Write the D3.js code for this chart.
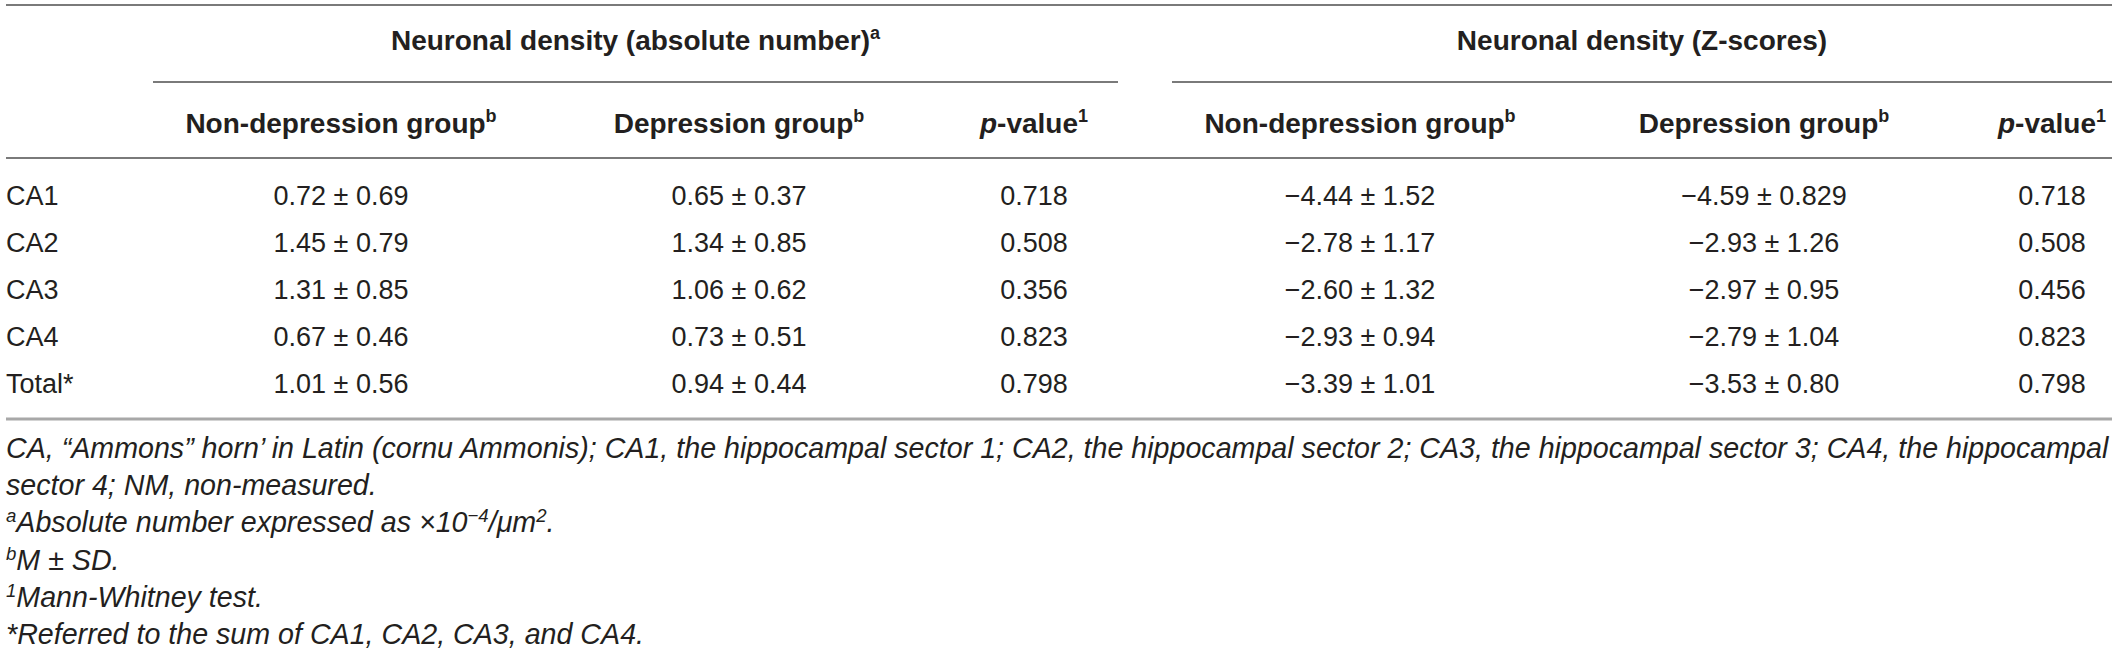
<!DOCTYPE html>
<html>
<head>
<meta charset="utf-8">
<script src="https://cdn.jsdelivr.net/npm/d3@7"></script>
<style>
  body { margin: 0; background: #fff; }
  svg { display: block; }
  text { font-family: "Liberation Sans", Arial, sans-serif; fill: #231f20; }
</style>
</head>
<body>
<div id="chart"></div>
<script>
// table content
var regions = ["CA1", "CA2", "CA3", "CA4", "Total*"];
var groupTitles = ["Neuronal density (absolute number)", "Neuronal density (Z-scores)"];
var groupMarks = ["a", ""];
var colTitles = ["Non-depression group", "Depression group", "p-value"];
var colMarks = ["b", "b", "1"];

var absNonDep = ["0.72 ± 0.69", "1.45 ± 0.79", "1.31 ± 0.85", "0.67 ± 0.46", "1.01 ± 0.56"];
var absDep = ["0.65 ± 0.37", "1.34 ± 0.85", "1.06 ± 0.62", "0.73 ± 0.51", "0.94 ± 0.44"];
var absP = ["0.718", "0.508", "0.356", "0.823", "0.798"];
var zNonDep = ["−4.44 ± 1.52", "−2.78 ± 1.17", "−2.60 ± 1.32", "−2.93 ± 0.94", "−3.39 ± 1.01"];
var zDep = ["−4.59 ± 0.829", "−2.93 ± 1.26", "−2.97 ± 0.95", "−2.79 ± 1.04", "−3.53 ± 0.80"];
var zP = ["0.718", "0.508", "0.456", "0.823", "0.798"];

var width = 2118, height = 652;

var svg = d3.select("#chart").append("svg")
    .attr("width", width)
    .attr("height", height);

// column positions
var colKeys = ["absNonDep", "absDep", "absP", "zNonDep", "zDep", "zP"];
var x = d3.scaleOrdinal()
    .domain(colKeys)
    .range([341, 739, 1034, 1360, 1764, 2052]);
var groupX = d3.scaleOrdinal().domain([0, 1]).range([[153, 1118], [1172, 2112]]);

var y = d3.scalePoint()
    .domain(regions)
    .range([195, 383]);

var columns = [absNonDep, absDep, absP, zNonDep, zDep, zP];

function hline(x1, x2, yy, color, w) {
    svg.append("line")
        .attr("x1", x1).attr("x2", x2)
        .attr("y1", yy).attr("y2", yy)
        .attr("stroke", color)
        .attr("stroke-width", w);
}

// rules
hline(6, 2112, 5, "#7a7a7a", 2);
groupX.domain().forEach(function(g) {
    var r = groupX(g);
    hline(r[0], r[1], 82, "#7a7a7a", 2);
});
hline(6, 2112, 158, "#7a7a7a", 2);
hline(6, 2112, 419, "#a8a8a8", 3);

// group titles (baseline = centre + 10)
groupTitles.forEach(function(t, i) {
    var r = groupX(i);
    var txt = svg.append("text")
        .attr("x", (r[0] + r[1]) / 2)
        .attr("y", 40 + 10)
        .attr("text-anchor", "middle")
        .attr("font-size", 28)
        .attr("font-weight", "bold");
    txt.append("tspan").text(t);
    if (groupMarks[i])
        txt.append("tspan").attr("font-size", 18).attr("dy", -11).text(groupMarks[i]);
});

// column titles
colKeys.forEach(function(k, i) {
    var c = i % 3;
    var txt = svg.append("text")
        .attr("x", x(k))
        .attr("y", 123 + 10)
        .attr("text-anchor", "middle")
        .attr("font-size", 28)
        .attr("font-weight", "bold");
    if (c === 2) {
        txt.append("tspan").attr("font-style", "italic").text("p");
        txt.append("tspan").text("-value");
    } else {
        txt.append("tspan").text(colTitles[c]);
    }
    txt.append("tspan").attr("font-size", 18).attr("dy", -11).text(colMarks[c]);
});

// row labels
svg.selectAll(".row-label")
    .data(regions).enter().append("text")
    .attr("class", "row-label")
    .attr("x", 6)
    .attr("y", function(d) { return y(d) + 9.5; })
    .attr("font-size", 27)
    .text(function(d) { return d; });

// cells
columns.forEach(function(col, ci) {
    svg.selectAll(".cell-" + ci)
        .data(col).enter().append("text")
        .attr("class", "cell-" + ci)
        .attr("x", x(colKeys[ci]))
        .attr("y", function(d, i) { return y(regions[i]) + 9.5; })
        .attr("text-anchor", "middle")
        .attr("font-size", 27)
        .text(function(d) { return d; });
});

// footnotes, each a list of [text, isSuperscript]
var notes = [
    [["CA, “Ammons” horn’ in Latin (cornu Ammonis); CA1, the hippocampal sector 1; CA2, the hippocampal sector 2; CA3, the hippocampal sector 3; CA4, the hippocampal", false]],
    [["sector 4; NM, non-measured.", false]],
    [["a", true], ["Absolute number expressed as ×10", false], ["−4", true], ["/μm", false], ["2", true], [".", false]],
    [["b", true], ["M ± SD.", false]],
    [["1", true], ["Mann-Whitney test.", false]],
    [["*Referred to the sum of CA1, CA2, CA3, and CA4.", false]]
];
var noteY = d3.scaleLinear().domain([0, notes.length - 1]).range([449, 635]);

var fs = 25;
var noteText = svg.selectAll(".note")
    .data(notes).enter().append("text")
    .attr("class", "note")
    .attr("x", 6)
    .attr("y", function(d, i) { return noteY(i) + 9; })
    .attr("font-style", "italic")
    .attr("font-size", fs);

noteText.each(function(parts) {
    var t = d3.select(this);
    var up = false;
    parts.forEach(function(p) {
        var sp = t.append("tspan").text(p[0]);
        if (p[1]) {
            sp.attr("font-size", fs * 0.65);
            if (!up) sp.attr("dy", -10);
            up = true;
        } else {
            if (up) sp.attr("dy", 10);
            up = false;
        }
    });
});

// fit the long first footnote line to the table width
var first = noteText.filter(function(d, i) { return i === 0; }).node();
var w = first.getComputedTextLength();
var target = 2104;
var nfs = fs * target / w;
noteText.attr("font-size", nfs);
noteText.selectAll("tspan").each(function() {
    var s = d3.select(this);
    if (s.attr("font-size")) s.attr("font-size", nfs * 0.65);
});
</script>
</body>
</html>
